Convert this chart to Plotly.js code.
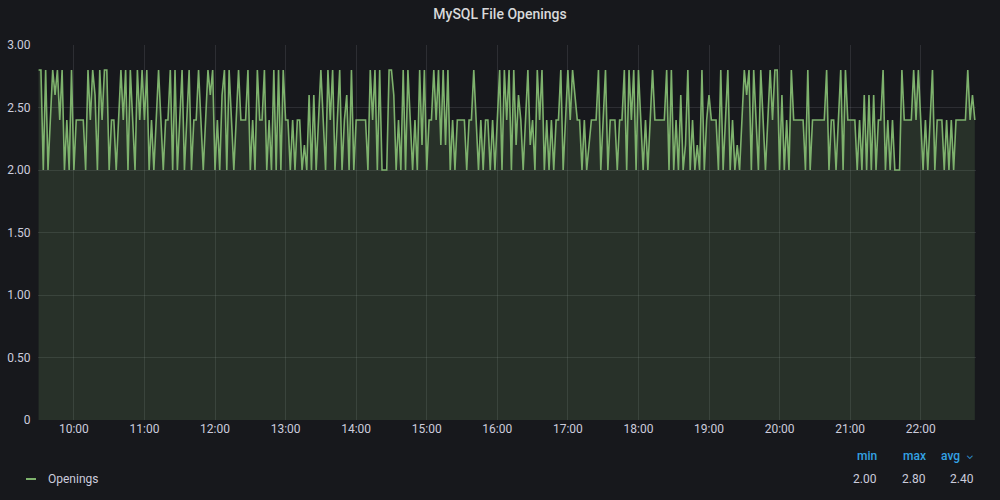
<!DOCTYPE html>
<html>
<head>
<meta charset="utf-8">
<script src="https://cdn.plot.ly/plotly-3.0.1.min.js"></script>
<style>
  html, body { margin: 0; padding: 0; background: #17181c; }
  #chart { width: 1000px; height: 500px; }
</style>
</head>
<body>
<div id="chart"></div>
<script>
// Series start and sampling step (2-minute samples)
const seriesStart = '2023-01-01 09:30:00';
const stepMinutes = 2;

// Values, one array per hour block
const vals_0930 = [2.8,2.8,2.0,2.8,2.0,2.4,2.8,2.6,2.8,2.4,2.8,2.0,2.4,2.0,2.8];
const vals_1000 = [2.0,2.4,2.4,2.4,2.4,2.0,2.8,2.4,2.8,2.6,2.0,2.8,2.4,2.8,2.8,2.0,2.4,2.4,2.0,2.4,2.8,2.4,2.8,2.0,2.8,2.4,2.0,2.8,2.4,2.8];
const vals_1100 = [2.4,2.8,2.0,2.4,2.0,2.4,2.8,2.4,2.0,2.4,2.4,2.8,2.0,2.8,2.0,2.4,2.8,2.0,2.4,2.8,2.0,2.4,2.4,2.8,2.4,2.0,2.4,2.8,2.6,2.8];
const vals_1200 = [2.0,2.4,2.0,2.6,2.8,2.0,2.8,2.4,2.0,2.4,2.8,2.4,2.4,2.4,2.8,2.0,2.4,2.0,2.8,2.4,2.4,2.8,2.0,2.4,2.0,2.8,2.0,2.8,2.0,2.8];
const vals_1300 = [2.4,2.4,2.0,2.4,2.0,2.4,2.4,2.0,2.2,2.0,2.6,2.0,2.6,2.0,2.4,2.8,2.4,2.0,2.8,2.4,2.8,2.0,2.4,2.8,2.0,2.4,2.6,2.0,2.8,2.0];
const vals_1400 = [2.4,2.4,2.4,2.4,2.4,2.0,2.8,2.4,2.8,2.0,2.8,2.0,2.0,2.0,2.8,2.8,2.6,2.0,2.4,2.0,2.8,2.0,2.8,2.4,2.0,2.4,2.0,2.8,2.2,2.8];
const vals_1500 = [2.0,2.4,2.4,2.8,2.4,2.8,2.2,2.8,2.2,2.8,2.0,2.4,2.0,2.4,2.4,2.4,2.4,2.0,2.4,2.4,2.8,2.4,2.0,2.4,2.0,2.4,2.4,2.0,2.4,2.0];
const vals_1600 = [2.4,2.8,2.0,2.8,2.4,2.8,2.0,2.8,2.2,2.6,2.4,2.0,2.4,2.8,2.2,2.4,2.0,2.8,2.4,2.8,2.0,2.4,2.0,2.4,2.0,2.4,2.4,2.8,2.0,2.4];
const vals_1700 = [2.8,2.4,2.8,2.6,2.4,2.4,2.0,2.4,2.0,2.2,2.4,2.4,2.4,2.8,2.0,2.4,2.8,2.0,2.4,2.4,2.4,2.0,2.4,2.4,2.8,2.0,2.8,2.4,2.8,2.0];
const vals_1800 = [2.8,2.4,2.0,2.4,2.0,2.4,2.8,2.4,2.4,2.4,2.4,2.4,2.8,2.0,2.8,2.0,2.4,2.0,2.6,2.0,2.2,2.8,2.0,2.4,2.0,2.2,2.0,2.8,2.0,2.4];
const vals_1900 = [2.6,2.4,2.4,2.4,2.0,2.8,2.0,2.4,2.8,2.0,2.4,2.0,2.2,2.0,2.4,2.8,2.6,2.8,2.0,2.8,2.4,2.0,2.8,2.4,2.0,2.4,2.8,2.4,2.8,2.8];
const vals_2000 = [2.0,2.6,2.0,2.4,2.0,2.8,2.4,2.4,2.4,2.4,2.4,2.0,2.8,2.0,2.4,2.4,2.4,2.4,2.4,2.4,2.8,2.0,2.4,2.4,2.0,2.4,2.8,2.0,2.8,2.4];
const vals_2100 = [2.4,2.4,2.4,2.0,2.4,2.0,2.6,2.0,2.6,2.0,2.6,2.0,2.4,2.4,2.8,2.0,2.4,2.0,2.4,2.0,2.0,2.0,2.8,2.4,2.4,2.4,2.4,2.8,2.4,2.8];
const vals_2200 = [2.4,2.0,2.4,2.0,2.4,2.8,2.0,2.4,2.4,2.4,2.0,2.4,2.0,2.4,2.0,2.4,2.4,2.4,2.4,2.4,2.8,2.4,2.6,2.4];

// Axis ticks
const yTickVals = [0, 0.5, 1.0, 1.5, 2.0, 2.5, 3.0];
const yTickText = ['0', '0.50', '1.00', '1.50', '2.00', '2.50', '3.00'];
const xTickHours = ['10:00','11:00','12:00','13:00','14:00','15:00','16:00','17:00','18:00','19:00','20:00','21:00','22:00'];

// Legend
const seriesName = 'Openings';
const statHeaders = ['min', 'max', 'avg'];
const statValues = ['2.00', '2.80', '2.40'];

const values = [].concat(vals_0930, vals_1000, vals_1100, vals_1200, vals_1300, vals_1400,
  vals_1500, vals_1600, vals_1700, vals_1800, vals_1900, vals_2000, vals_2100, vals_2200);

function pad(n) { return (n < 10 ? '0' : '') + n; }
const t0 = new Date(seriesStart.replace(' ', 'T'));
const times = values.map((v, i) => {
  const d = new Date(t0.getTime() + i * stepMinutes * 60000);
  return d.getFullYear() + '-' + pad(d.getMonth() + 1) + '-' + pad(d.getDate()) + ' ' +
    pad(d.getHours()) + ':' + pad(d.getMinutes()) + ':00';
});
const xTickVals = xTickHours.map(h => '2023-01-01 ' + h + ':00');

const textColor = '#ccccdc';
const font = 'Roboto, Inter, "Open Sans", sans-serif';

const trace = {
  x: times,
  y: values,
  type: 'scatter',
  mode: 'lines',
  line: { color: '#7eb26d', width: 1.6, shape: 'linear' },
  fill: 'tozeroy',
  fillcolor: 'rgba(126,178,109,0.17)',
  hoverinfo: 'x+y',
  showlegend: false
};

// Legend annotations (paper coords relative to plot area)
const L = 38, R = 976, T = 45, B = 420;
function px(x) { return (x - L) / (R - L); }
function py(y) { return (B - y) / (B - T); }

const annotations = [];
annotations.push({ x: px(46), y: py(479), xref: 'paper', yref: 'paper', xanchor: 'left', yanchor: 'middle',
  text: seriesName, showarrow: false, font: { family: font, size: 12, color: textColor } });
const headerX = [879, 928, 962];
statHeaders.forEach((h, i) => {
  annotations.push({ x: px(headerX[i]), y: py(456), xref: 'paper', yref: 'paper', xanchor: 'right', yanchor: 'middle',
    text: h, showarrow: false, font: { family: font, size: 12, color: '#33a2e5', weight: 500 } });
});
annotations.push({ x: px(970), y: py(455), xref: 'paper', yref: 'paper', xanchor: 'center', yanchor: 'middle',
  text: '⌄', showarrow: false, font: { family: font, size: 10, color: '#33a2e5' } });
const valX = [879, 928, 976];
statValues.forEach((v, i) => {
  annotations.push({ x: px(valX[i]), y: py(479), xref: 'paper', yref: 'paper', xanchor: 'right', yanchor: 'middle',
    text: v, showarrow: false, font: { family: font, size: 12, color: textColor } });
});

const layout = {
  width: 1000,
  height: 500,
  paper_bgcolor: '#17181c',
  plot_bgcolor: '#17181c',
  margin: { l: L, r: 1000 - R, t: T, b: 500 - B },
  title: { text: 'MySQL File Openings', x: 0.5, xanchor: 'center', y: 1 - 14 / 500, yanchor: 'middle',
    font: { family: font, size: 14, color: '#d8d9da', weight: 500 } },
  font: { family: font, color: textColor, size: 12 },
  xaxis: {
    type: 'date',
    range: ['2023-01-01 09:29:30', '2023-01-01 22:47:00'],
    tickvals: xTickVals,
    ticktext: xTickHours,
    showgrid: true,
    gridcolor: 'rgba(204,204,220,0.12)',
    gridwidth: 1,
    zeroline: false,
    showline: false,
    ticks: '',
    ticklen: 0,
    tickfont: { family: font, size: 12, color: textColor },
    fixedrange: true
  },
  yaxis: {
    range: [0, 3.0],
    tickvals: yTickVals,
    ticktext: yTickText,
    showgrid: true,
    gridcolor: 'rgba(204,204,220,0.12)',
    gridwidth: 1,
    zeroline: false,
    showline: false,
    ticks: 'outside',
    ticklen: 4,
    tickcolor: 'rgba(0,0,0,0)',
    tickfont: { family: font, size: 12, color: textColor },
    fixedrange: true
  },
  shapes: [
    { type: 'line', xref: 'paper', yref: 'paper', x0: px(26), x1: px(36), y0: py(479), y1: py(479),
      line: { color: '#7eb26d', width: 2 } }
  ],
  annotations: annotations,
  showlegend: false
};

Plotly.newPlot('chart', [trace], layout, { displayModeBar: false, staticPlot: true });
</script>
</body>
</html>
